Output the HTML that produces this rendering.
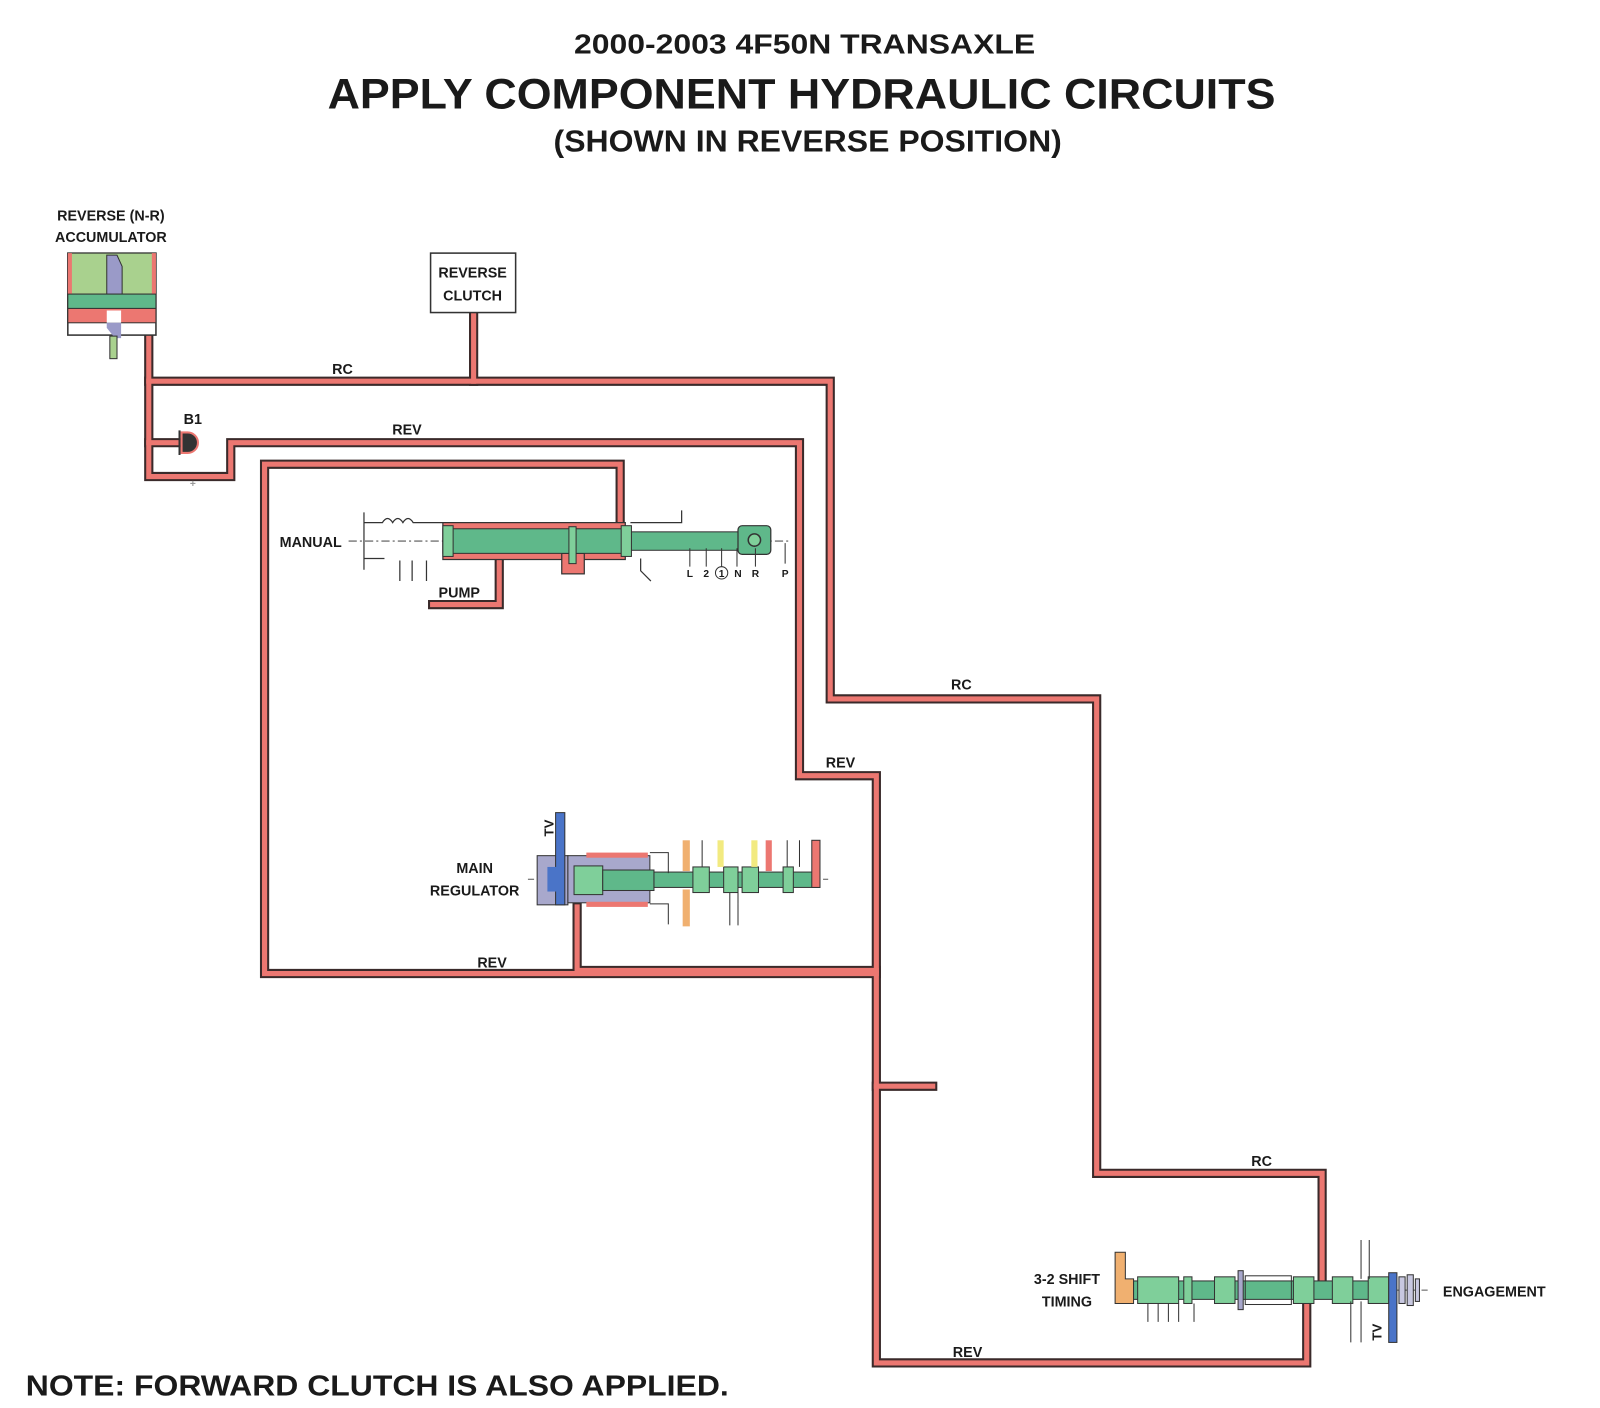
<!DOCTYPE html>
<html><head><meta charset="utf-8"><style>
html,body{margin:0;padding:0;background:#fff;}
svg{display:block;}
text{font-family:"Liberation Sans",sans-serif;font-weight:bold;fill:#1a1a1a;}
</style></head><body>
<svg width="1600" height="1408" viewBox="0 0 1561 1374" xmlns="http://www.w3.org/2000/svg">
<rect x="0" y="0" width="1561" height="1374" fill="#fff"/>
<!-- Titles -->
<text x="785" y="52" font-size="27" text-anchor="middle" textLength="450" lengthAdjust="spacingAndGlyphs">2000-2003 4F50N TRANSAXLE</text>
<text x="782" y="106" font-size="42" text-anchor="middle" textLength="925" lengthAdjust="spacingAndGlyphs">APPLY COMPONENT HYDRAULIC CIRCUITS</text>
<text x="788" y="148" font-size="30" text-anchor="middle" textLength="496" lengthAdjust="spacingAndGlyphs">(SHOWN IN REVERSE POSITION)</text>
<text x="25" y="1362" font-size="28" textLength="686" lengthAdjust="spacingAndGlyphs">NOTE: FORWARD CLUTCH IS ALSO APPLIED.</text>

<!-- Circuits -->
<g fill="none" stroke-linejoin="miter" stroke-linecap="square">
 <g stroke="#3a2a2a" stroke-width="9">
  <polyline points="145,315 145,465 225,465 225,432 780,432 780,757 855,757 855,1330 1275,1330 1275,1255"/>
  <polyline points="145,372 810,372 810,682 1070,682 1070,1145 1290,1145 1290,1262"/>
  <polyline points="462,305 462,372"/>
  <polyline points="145,432 185,432"/>
  <polyline points="605,520 605,453 258,453 258,950 855,950"/>
  <polyline points="563,885 563,947 855,947"/>
  <polyline points="855,1060 910,1060"/>
  <polyline points="487,545 487,590 422,590"/>
 </g>
 <g stroke="#ec7771" stroke-width="5">
  <polyline points="145,315 145,465 225,465 225,432 780,432 780,757 855,757 855,1330 1275,1330 1275,1255"/>
  <polyline points="145,372 810,372 810,682 1070,682 1070,1145 1290,1145 1290,1262"/>
  <polyline points="462,305 462,372"/>
  <polyline points="145,432 185,432"/>
  <polyline points="605,520 605,453 258,453 258,950 855,950"/>
  <polyline points="563,885 563,947 855,947"/>
  <polyline points="855,1060 910,1060"/>
  <polyline points="487,545 487,590 422,590"/>
 </g>
</g>

<!-- Reverse clutch box -->
<rect x="420" y="247" width="83" height="58" fill="#fff" stroke="#333" stroke-width="1.5"/>
<text x="461" y="271" font-size="14" text-anchor="middle">REVERSE</text>
<text x="461" y="293" font-size="14" text-anchor="middle">CLUTCH</text>

<!-- Accumulator -->
<text x="108" y="215" font-size="14" text-anchor="middle">REVERSE (N-R)</text>
<text x="108" y="236" font-size="14" text-anchor="middle">ACCUMULATOR</text>
<rect x="66" y="247" width="86" height="80" fill="#fff" stroke="#333" stroke-width="1.5"/>
<rect x="66" y="247" width="86" height="40" fill="#a9d18e" stroke="#333" stroke-width="1"/>
<rect x="66" y="247" width="4" height="40" fill="#ec7771"/>
<rect x="148" y="247" width="4" height="40" fill="#ec7771"/>
<polygon points="104,249 114,249 119,260 119,287 104,287" fill="#9a9ac8" stroke="#333" stroke-width="1"/>
<rect x="66" y="287" width="86" height="14" fill="#5fb88a" stroke="#333" stroke-width="1"/>
<rect x="66" y="301" width="86" height="14" fill="#ec7771" stroke="#333" stroke-width="1"/>
<rect x="104" y="303" width="14" height="12" fill="#fff"/>
<polygon points="104,315 118,315 118,330 112,330 104,320" fill="#9a9ac8"/>
<rect x="107" y="328" width="7" height="22" fill="#a9d18e" stroke="#333" stroke-width="1"/>

<!-- B1 -->
<text x="188" y="414" font-size="14" text-anchor="middle">B1</text>
<path d="M177,422 h6 a10,10 0 0 1 0,20 h-6 z" fill="#333" stroke="#ec7771" stroke-width="2"/>
<line x1="175" y1="420" x2="175" y2="444" stroke="#333" stroke-width="2"/>
<text x="188" y="475" font-size="10" text-anchor="middle" style="fill:#999">+</text>

<!-- Line labels -->
<g font-size="14">
<text x="334" y="365" text-anchor="middle">RC</text>
<text x="397" y="424" text-anchor="middle">REV</text>
<text x="938" y="673" text-anchor="middle">RC</text>
<text x="820" y="749" text-anchor="middle">REV</text>
<text x="480" y="944" text-anchor="middle">REV</text>
<text x="1231" y="1138" text-anchor="middle">RC</text>
<text x="944" y="1324" text-anchor="middle">REV</text>
</g>

<!-- Manual valve -->
<text x="303" y="534" font-size="14" text-anchor="middle">MANUAL</text>
<line x1="340" y1="528" x2="770" y2="528" stroke="#555" stroke-width="1" stroke-dasharray="8,3,2,3"/>
<path d="M355,500 v56 M355,510 h18 q5,-8 10,0 q5,-8 10,0 q5,-8 10,0 h40" fill="none" stroke="#333" stroke-width="1.2"/>
<path d="M355,545 h20 M390,547 v20 M402,547 v20 M416,547 v20" fill="none" stroke="#333" stroke-width="1.2"/>
<rect x="432" y="510" width="178" height="36" fill="#ec7771" stroke="#333" stroke-width="1.2"/>
<rect x="548" y="540" width="22" height="20" fill="#ec7771" stroke="#333" stroke-width="1.2"/>
<rect x="432" y="516" width="178" height="24" fill="#5fb88a" stroke="#333" stroke-width="1"/>
<rect x="432" y="513" width="10" height="30" fill="#7fcf9a" stroke="#333" stroke-width="1"/>
<rect x="555" y="514" width="7" height="36" fill="#7fcf9a" stroke="#333" stroke-width="1"/>
<rect x="610" y="519" width="115" height="18" fill="#5fb88a" stroke="#333" stroke-width="1"/>
<rect x="606" y="513" width="10" height="30" fill="#7fcf9a" stroke="#333" stroke-width="1"/>
<rect x="720" y="513" width="32" height="28" rx="4" fill="#5fb88a" stroke="#333" stroke-width="1.2"/>
<circle cx="736" cy="527" r="6" fill="#7fcf9a" stroke="#333" stroke-width="1.5"/>
<path d="M615,510 h50 v-12 M625,545 v12 l10,10" fill="none" stroke="#333" stroke-width="1.2"/>
<path d="M673,535 v18 M689,535 v18 M704,535 v18 M719,535 v18 M737,535 v18 M766,530 v20" stroke="#333" stroke-width="1"/>
<g font-size="10"><text x="673" y="563" text-anchor="middle">L</text><text x="689" y="563" text-anchor="middle">2</text><text x="704" y="563" text-anchor="middle">1</text><text x="720" y="563" text-anchor="middle">N</text><text x="737" y="563" text-anchor="middle">R</text><text x="766" y="563" text-anchor="middle">P</text></g>
<circle cx="704" cy="559" r="6" fill="none" stroke="#333" stroke-width="1"/>
<text x="448" y="583" font-size="14" text-anchor="middle">PUMP</text>

<!-- Main regulator -->
<text x="463" y="852" font-size="14" text-anchor="middle">MAIN</text>
<text x="463" y="874" font-size="14" text-anchor="middle">REGULATOR</text>
<line x1="515" y1="858" x2="808" y2="858" stroke="#555" stroke-width="1" stroke-dasharray="6,3"/>
<text x="540" y="808" font-size="13" transform="rotate(-90 540 808)" text-anchor="middle">TV</text>
<rect x="524" y="835" width="30" height="48" fill="#a8a8cc" stroke="#333" stroke-width="1"/>
<rect x="542" y="793" width="9" height="90" fill="#4a74c8" stroke="#333" stroke-width="1"/>
<rect x="534" y="846" width="14" height="24" fill="#4a74c8"/>
<rect x="554" y="835" width="80" height="46" fill="#a8a8cc" stroke="#333" stroke-width="1"/>
<rect x="560" y="845" width="28" height="28" fill="#7fcf9a" stroke="#333" stroke-width="1"/>
<rect x="588" y="849" width="50" height="20" fill="#5fb88a" stroke="#333" stroke-width="1"/>
<rect x="572" y="832" width="60" height="5" fill="#ec7771"/>
<rect x="572" y="880" width="60" height="5" fill="#ec7771"/>
<rect x="638" y="851" width="162" height="15" fill="#5fb88a" stroke="#333" stroke-width="1"/>
<g fill="#7fcf9a" stroke="#333" stroke-width="1">
<rect x="676" y="846" width="16" height="25"/><rect x="706" y="846" width="14" height="25"/><rect x="724" y="846" width="16" height="25"/><rect x="764" y="846" width="10" height="25"/>
</g>
<rect x="666" y="820" width="7" height="30" fill="#f0b070"/><rect x="666" y="868" width="7" height="36" fill="#f0b070"/>
<rect x="700" y="820" width="6" height="26" fill="#f2ea80"/><rect x="733" y="820" width="6" height="26" fill="#f2ea80"/>
<rect x="747" y="820" width="6" height="30" fill="#ec7771"/>
<rect x="792" y="820" width="8" height="46" fill="#ec7771" stroke="#333" stroke-width="1"/>
<path d="M685,820 v26 M768,820 v26 M780,820 v26 M712,871 v32 M720,871 v32 M634,832 h18 v20 M634,882 h18 v20" fill="none" stroke="#333" stroke-width="1"/>

<!-- 3-2 shift / engagement -->
<text x="1041" y="1253" font-size="14" text-anchor="middle">3-2 SHIFT</text>
<text x="1041" y="1275" font-size="14" text-anchor="middle">TIMING</text>
<text x="1458" y="1265" font-size="14" text-anchor="middle">ENGAGEMENT</text>
<line x1="1090" y1="1259" x2="1395" y2="1259" stroke="#555" stroke-width="1" stroke-dasharray="6,3"/>
<polygon points="1088,1222 1098,1222 1098,1248 1106,1248 1106,1272 1088,1272" fill="#f0b070" stroke="#333" stroke-width="1"/>
<rect x="1106" y="1250" width="250" height="18" fill="#5fb88a" stroke="#333" stroke-width="1"/>
<g fill="#7fcf9a" stroke="#333" stroke-width="1">
<rect x="1110" y="1246" width="40" height="26"/><rect x="1155" y="1246" width="8" height="26"/><rect x="1185" y="1246" width="20" height="26"/>
<rect x="1262" y="1246" width="20" height="26"/><rect x="1300" y="1246" width="20" height="26"/><rect x="1335" y="1246" width="20" height="26"/>
</g>
<rect x="1215" y="1245" width="45" height="28" fill="none" stroke="#333" stroke-width="1"/>
<rect x="1208" y="1240" width="5" height="38" fill="#a8a8cc" stroke="#333" stroke-width="1"/>
<rect x="1355" y="1242" width="8" height="68" fill="#4a74c8" stroke="#333" stroke-width="1"/>
<g fill="#c8c8e0" stroke="#333" stroke-width="1"><rect x="1365" y="1246" width="6" height="26"/><rect x="1373" y="1244" width="6" height="30"/><rect x="1381" y="1248" width="4" height="22"/></g>
<path d="M1328,1210 v38 M1336,1210 v38 M1318,1270 v40 M1328,1270 v40 M1120,1272 v18 M1130,1272 v18 M1140,1272 v18 M1150,1272 v18 M1165,1272 v18" stroke="#333" stroke-width="1"/>
<text x="1348" y="1300" font-size="13" transform="rotate(-90 1348 1300)" text-anchor="middle">TV</text>
</svg>
</body></html>
